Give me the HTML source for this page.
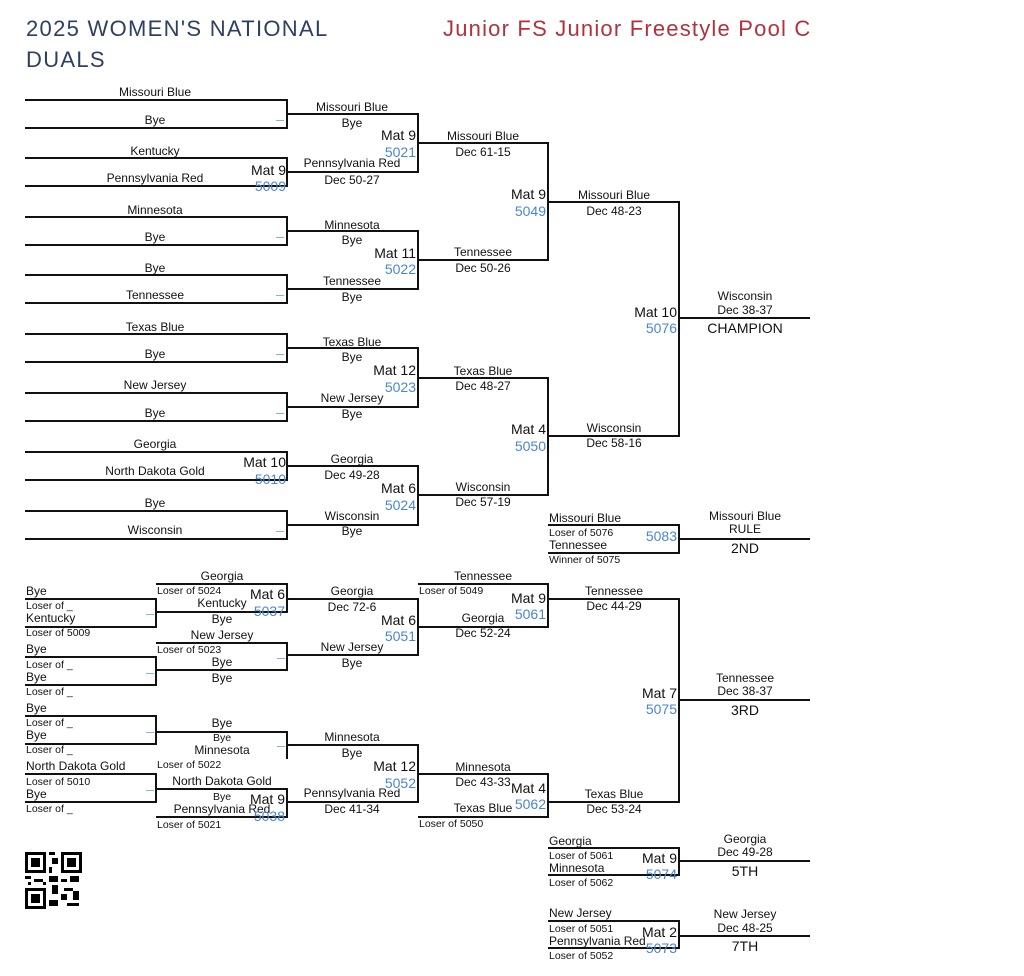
<!DOCTYPE html>
<html><head><meta charset="utf-8"><style>
body{margin:0;width:1024px;height:976px;background:#fff;position:relative;overflow:hidden;font-family:"Liberation Sans",sans-serif;color:#111}
.h{position:absolute;height:2px;background:#111}
.v{position:absolute;width:2px;background:#111}
.c,.r,.l{position:absolute;white-space:nowrap;font-size:12px;line-height:1}
.c{transform:translate(-50%,-50%)}
.r{transform:translate(-100%,-50%)}
.l{transform:translateY(-50%)}
.m{font-size:14px}
.b{color:#4a86d0;font-size:14px}
.s{font-size:10.5px}
.big{font-size:14px}
.d{position:absolute;height:1px;width:8px;background:#8ab0e0}
.hd{position:absolute;font-size:22px;color:#2e3f5f;line-height:31px;letter-spacing:1.3px}
</style></head><body>
<div class="hd" style="left:26px;top:13px">2025 WOMEN'S NATIONAL<br>DUALS</div>
<div class="hd" style="left:443px;top:13px;color:#b0323f;letter-spacing:1.2px">Junior FS Junior Freestyle Pool C</div>

<!-- R1 lines -->
<div class="h" style="left:25px;top:99px;width:263px"></div><div class="h" style="left:25px;top:127px;width:263px"></div><div class="v" style="left:286px;top:99px;height:30px"></div>
<div class="h" style="left:25px;top:157px;width:263px"></div><div class="h" style="left:25px;top:185px;width:263px"></div><div class="v" style="left:286px;top:157px;height:30px"></div>
<div class="h" style="left:25px;top:216px;width:263px"></div><div class="h" style="left:25px;top:244px;width:263px"></div><div class="v" style="left:286px;top:216px;height:30px"></div>
<div class="h" style="left:25px;top:274px;width:263px"></div><div class="h" style="left:25px;top:302px;width:263px"></div><div class="v" style="left:286px;top:274px;height:30px"></div>
<div class="h" style="left:25px;top:333px;width:263px"></div><div class="h" style="left:25px;top:361px;width:263px"></div><div class="v" style="left:286px;top:333px;height:30px"></div>
<div class="h" style="left:25px;top:392px;width:263px"></div><div class="h" style="left:25px;top:420px;width:263px"></div><div class="v" style="left:286px;top:392px;height:30px"></div>
<div class="h" style="left:25px;top:451px;width:263px"></div><div class="h" style="left:25px;top:479px;width:263px"></div><div class="v" style="left:286px;top:451px;height:30px"></div>
<div class="h" style="left:25px;top:510px;width:263px"></div><div class="h" style="left:25px;top:538px;width:263px"></div><div class="v" style="left:286px;top:510px;height:30px"></div>
<!-- R2 -->
<div class="h" style="left:287px;top:113px;width:132px"></div><div class="h" style="left:287px;top:171px;width:132px"></div><div class="v" style="left:417px;top:113px;height:60px"></div>
<div class="h" style="left:287px;top:230px;width:132px"></div><div class="h" style="left:287px;top:288px;width:132px"></div><div class="v" style="left:417px;top:230px;height:60px"></div>
<div class="h" style="left:287px;top:347px;width:132px"></div><div class="h" style="left:287px;top:406px;width:132px"></div><div class="v" style="left:417px;top:347px;height:61px"></div>
<div class="h" style="left:287px;top:465px;width:132px"></div><div class="h" style="left:287px;top:524px;width:132px"></div><div class="v" style="left:417px;top:465px;height:61px"></div>
<!-- R3 -->
<div class="h" style="left:418px;top:142px;width:131px"></div><div class="h" style="left:418px;top:259px;width:131px"></div><div class="v" style="left:547px;top:142px;height:119px"></div>
<div class="h" style="left:418px;top:377px;width:131px"></div><div class="h" style="left:418px;top:494px;width:131px"></div><div class="v" style="left:547px;top:377px;height:119px"></div>
<!-- R4 -->
<div class="h" style="left:548px;top:201px;width:132px"></div><div class="h" style="left:548px;top:435px;width:132px"></div><div class="v" style="left:678px;top:201px;height:236px"></div>
<div class="h" style="left:679px;top:317px;width:131px"></div>
<!-- 2nd -->
<div class="h" style="left:548px;top:524px;width:132px"></div><div class="h" style="left:548px;top:552px;width:132px"></div><div class="v" style="left:678px;top:524px;height:30px"></div>
<div class="h" style="left:679px;top:538px;width:131px"></div>

<!-- R1 text -->
<div class="c" style="left:155px;top:92px">Missouri Blue</div><div class="c" style="left:155px;top:120px">Bye</div><div class="d" style="left:276px;top:120px"></div>
<div class="c" style="left:155px;top:151px">Kentucky</div><div class="c" style="left:155px;top:178px">Pennsylvania Red</div>
<div class="r m" style="left:286px;top:170px">Mat 9</div><div class="r b" style="left:286px;top:186px">5009</div>
<div class="c" style="left:155px;top:210px">Minnesota</div><div class="c" style="left:155px;top:237px">Bye</div><div class="d" style="left:276px;top:237px"></div>
<div class="c" style="left:155px;top:268px">Bye</div><div class="c" style="left:155px;top:295px">Tennessee</div><div class="d" style="left:276px;top:295px"></div>
<div class="c" style="left:155px;top:327px">Texas Blue</div><div class="c" style="left:155px;top:354px">Bye</div><div class="d" style="left:276px;top:354px"></div>
<div class="c" style="left:155px;top:385px">New Jersey</div><div class="c" style="left:155px;top:413px">Bye</div><div class="d" style="left:276px;top:413px"></div>
<div class="c" style="left:155px;top:444px">Georgia</div><div class="c" style="left:155px;top:471px">North Dakota Gold</div>
<div class="r m" style="left:286px;top:462px">Mat 10</div><div class="r b" style="left:286px;top:479px">5010</div>
<div class="c" style="left:155px;top:503px">Bye</div><div class="c" style="left:155px;top:530px">Wisconsin</div><div class="d" style="left:276px;top:531px"></div>
<!-- R2 text -->
<div class="c" style="left:352px;top:107px">Missouri Blue</div><div class="c" style="left:352px;top:123px">Bye</div>
<div class="r m" style="left:416px;top:135px">Mat 9</div><div class="r b" style="left:416px;top:152px">5021</div>
<div class="c" style="left:352px;top:163px">Pennsylvania Red</div><div class="c" style="left:352px;top:180px">Dec 50-27</div>
<div class="c" style="left:352px;top:225px">Minnesota</div><div class="c" style="left:352px;top:240px">Bye</div>
<div class="r m" style="left:416px;top:253px">Mat 11</div><div class="r b" style="left:416px;top:269px">5022</div>
<div class="c" style="left:352px;top:281px">Tennessee</div><div class="c" style="left:352px;top:297px">Bye</div>
<div class="c" style="left:352px;top:342px">Texas Blue</div><div class="c" style="left:352px;top:357px">Bye</div>
<div class="r m" style="left:416px;top:370px">Mat 12</div><div class="r b" style="left:416px;top:387px">5023</div>
<div class="c" style="left:352px;top:398px">New Jersey</div><div class="c" style="left:352px;top:414px">Bye</div>
<div class="c" style="left:352px;top:459px">Georgia</div><div class="c" style="left:352px;top:475px">Dec 49-28</div>
<div class="r m" style="left:416px;top:488px">Mat 6</div><div class="r b" style="left:416px;top:505px">5024</div>
<div class="c" style="left:352px;top:516px">Wisconsin</div><div class="c" style="left:352px;top:531px">Bye</div>
<!-- R3 text -->
<div class="c" style="left:483px;top:136px">Missouri Blue</div><div class="c" style="left:483px;top:152px">Dec 61-15</div>
<div class="r m" style="left:546px;top:194px">Mat 9</div><div class="r b" style="left:546px;top:211px">5049</div>
<div class="c" style="left:483px;top:252px">Tennessee</div><div class="c" style="left:483px;top:268px">Dec 50-26</div>
<div class="c" style="left:483px;top:371px">Texas Blue</div><div class="c" style="left:483px;top:386px">Dec 48-27</div>
<div class="r m" style="left:546px;top:429px">Mat 4</div><div class="r b" style="left:546px;top:446px">5050</div>
<div class="c" style="left:483px;top:487px">Wisconsin</div><div class="c" style="left:483px;top:502px">Dec 57-19</div>
<!-- R4 text -->
<div class="c" style="left:614px;top:195px">Missouri Blue</div><div class="c" style="left:614px;top:211px">Dec 48-23</div>
<div class="r m" style="left:677px;top:312px">Mat 10</div><div class="r b" style="left:677px;top:328px">5076</div>
<div class="c" style="left:614px;top:428px">Wisconsin</div><div class="c" style="left:614px;top:443px">Dec 58-16</div>
<div class="c" style="left:745px;top:296px">Wisconsin</div><div class="c" style="left:745px;top:310px">Dec 38-37</div><div class="c big" style="left:745px;top:328px">CHAMPION</div>
<!-- 2nd -->
<div class="l" style="left:549px;top:518px">Missouri Blue</div><div class="l s" style="left:549px;top:533px">Loser of 5076</div>
<div class="l" style="left:549px;top:545px">Tennessee</div><div class="l s" style="left:549px;top:560px">Winner of 5075</div>
<div class="r b" style="left:677px;top:536px">5083</div>
<div class="c" style="left:745px;top:516px">Missouri Blue</div><div class="c" style="left:745px;top:529px">RULE</div><div class="c big" style="left:745px;top:548px">2ND</div>

<!-- Consolation R1 -->
<div class="h" style="left:25px;top:598px;width:132px"></div><div class="h" style="left:25px;top:626px;width:132px"></div><div class="v" style="left:155px;top:598px;height:30px"></div>
<div class="h" style="left:25px;top:656px;width:132px"></div><div class="h" style="left:25px;top:684px;width:132px"></div><div class="v" style="left:155px;top:656px;height:30px"></div>
<div class="h" style="left:25px;top:715px;width:132px"></div><div class="h" style="left:25px;top:743px;width:132px"></div><div class="v" style="left:155px;top:715px;height:30px"></div>
<div class="h" style="left:25px;top:773px;width:132px"></div><div class="h" style="left:25px;top:801px;width:132px"></div><div class="v" style="left:155px;top:773px;height:30px"></div>
<div class="l" style="left:26px;top:591px">Bye</div><div class="l s" style="left:26px;top:606px">Loser of _</div><div class="l" style="left:26px;top:618px">Kentucky</div><div class="l s" style="left:26px;top:633px">Loser of 5009</div>
<div class="l" style="left:26px;top:649px">Bye</div><div class="l s" style="left:26px;top:665px">Loser of _</div><div class="l" style="left:26px;top:677px">Bye</div><div class="l s" style="left:26px;top:692px">Loser of _</div>
<div class="l" style="left:26px;top:708px">Bye</div><div class="l s" style="left:26px;top:723px">Loser of _</div><div class="l" style="left:26px;top:735px">Bye</div><div class="l s" style="left:26px;top:750px">Loser of _</div>
<div class="l" style="left:26px;top:766px">North Dakota Gold</div><div class="l s" style="left:26px;top:782px">Loser of 5010</div><div class="l" style="left:26px;top:794px">Bye</div><div class="l s" style="left:26px;top:809px">Loser of _</div>
<div class="d" style="left:146px;top:614px"></div><div class="d" style="left:146px;top:673px"></div><div class="d" style="left:146px;top:732px"></div><div class="d" style="left:146px;top:790px"></div>
<!-- Cons R2 -->
<div class="h" style="left:156px;top:583px;width:132px"></div><div class="h" style="left:156px;top:611px;width:132px"></div><div class="v" style="left:286px;top:583px;height:30px"></div>
<div class="h" style="left:156px;top:642px;width:132px"></div><div class="h" style="left:156px;top:669px;width:132px"></div><div class="v" style="left:286px;top:642px;height:29px"></div>
<div class="h" style="left:156px;top:731px;width:132px"></div><div class="v" style="left:286px;top:731px;height:28px"></div>
<div class="h" style="left:156px;top:788px;width:132px"></div><div class="h" style="left:156px;top:816px;width:132px"></div><div class="v" style="left:286px;top:788px;height:30px"></div>
<div class="c" style="left:222px;top:576px">Georgia</div><div class="l s" style="left:157px;top:591px">Loser of 5024</div><div class="c" style="left:222px;top:603px">Kentucky</div><div class="c" style="left:222px;top:619px">Bye</div>
<div class="r m" style="left:285px;top:594px">Mat 6</div><div class="r b" style="left:285px;top:611px">5037</div>
<div class="c" style="left:222px;top:635px">New Jersey</div><div class="l s" style="left:157px;top:650px">Loser of 5023</div><div class="c" style="left:222px;top:662px">Bye</div><div class="c" style="left:222px;top:678px">Bye</div>
<div class="d" style="left:277px;top:658px"></div>
<div class="c" style="left:222px;top:723px">Bye</div><div class="c s" style="left:222px;top:738px">Bye</div><div class="c" style="left:222px;top:750px">Minnesota</div><div class="l s" style="left:157px;top:765px">Loser of 5022</div>
<div class="d" style="left:277px;top:746px"></div>
<div class="c" style="left:222px;top:781px">North Dakota Gold</div><div class="c s" style="left:222px;top:797px">Bye</div><div class="c" style="left:222px;top:809px">Pennsylvania Red</div><div class="l s" style="left:157px;top:825px">Loser of 5021</div>
<div class="r m" style="left:285px;top:799px">Mat 9</div><div class="r b" style="left:285px;top:816px">5038</div>
<!-- Cons R3 -->
<div class="h" style="left:287px;top:598px;width:132px"></div><div class="h" style="left:287px;top:654px;width:132px"></div><div class="v" style="left:417px;top:598px;height:58px"></div>
<div class="h" style="left:287px;top:744px;width:132px"></div><div class="h" style="left:287px;top:801px;width:132px"></div><div class="v" style="left:417px;top:744px;height:59px"></div>
<div class="c" style="left:352px;top:591px">Georgia</div><div class="c" style="left:352px;top:607px">Dec 72-6</div>
<div class="r m" style="left:416px;top:620px">Mat 6</div><div class="r b" style="left:416px;top:636px">5051</div>
<div class="c" style="left:352px;top:647px">New Jersey</div><div class="c" style="left:352px;top:663px">Bye</div>
<div class="c" style="left:352px;top:737px">Minnesota</div><div class="c" style="left:352px;top:753px">Bye</div>
<div class="r m" style="left:416px;top:766px">Mat 12</div><div class="r b" style="left:416px;top:783px">5052</div>
<div class="c" style="left:352px;top:793px">Pennsylvania Red</div><div class="c" style="left:352px;top:809px">Dec 41-34</div>
<!-- Cons R4 -->
<div class="h" style="left:418px;top:583px;width:131px"></div><div class="h" style="left:418px;top:626px;width:131px"></div><div class="v" style="left:547px;top:583px;height:45px"></div>
<div class="h" style="left:418px;top:773px;width:131px"></div><div class="h" style="left:418px;top:816px;width:131px"></div><div class="v" style="left:547px;top:773px;height:45px"></div>
<div class="c" style="left:483px;top:576px">Tennessee</div><div class="l s" style="left:419px;top:591px">Loser of 5049</div>
<div class="r m" style="left:546px;top:598px">Mat 9</div><div class="r b" style="left:546px;top:614px">5061</div>
<div class="c" style="left:483px;top:618px">Georgia</div><div class="c" style="left:483px;top:633px">Dec 52-24</div>
<div class="c" style="left:483px;top:767px">Minnesota</div><div class="c" style="left:483px;top:782px">Dec 43-33</div>
<div class="r m" style="left:546px;top:788px">Mat 4</div><div class="r b" style="left:546px;top:804px">5062</div>
<div class="c" style="left:483px;top:808px">Texas Blue</div><div class="l s" style="left:419px;top:824px">Loser of 5050</div>
<!-- Cons R5 -->
<div class="h" style="left:548px;top:598px;width:132px"></div><div class="h" style="left:548px;top:801px;width:132px"></div><div class="v" style="left:678px;top:598px;height:205px"></div>
<div class="h" style="left:679px;top:699px;width:131px"></div>
<div class="c" style="left:614px;top:591px">Tennessee</div><div class="c" style="left:614px;top:606px">Dec 44-29</div>
<div class="r m" style="left:677px;top:693px">Mat 7</div><div class="r b" style="left:677px;top:709px">5075</div>
<div class="c" style="left:614px;top:794px">Texas Blue</div><div class="c" style="left:614px;top:809px">Dec 53-24</div>
<div class="c" style="left:745px;top:678px">Tennessee</div><div class="c" style="left:745px;top:691px">Dec 38-37</div><div class="c big" style="left:745px;top:710px">3RD</div>
<!-- 5th -->
<div class="h" style="left:548px;top:847px;width:132px"></div><div class="h" style="left:548px;top:874px;width:132px"></div><div class="v" style="left:678px;top:847px;height:29px"></div>
<div class="h" style="left:679px;top:860px;width:131px"></div>
<div class="l" style="left:549px;top:841px">Georgia</div><div class="l s" style="left:549px;top:856px">Loser of 5061</div><div class="l" style="left:549px;top:868px">Minnesota</div><div class="l s" style="left:549px;top:883px">Loser of 5062</div>
<div class="r m" style="left:677px;top:858px">Mat 9</div><div class="r b" style="left:677px;top:874px">5074</div>
<div class="c" style="left:745px;top:839px">Georgia</div><div class="c" style="left:745px;top:852px">Dec 49-28</div><div class="c big" style="left:745px;top:871px">5TH</div>
<!-- 7th -->
<div class="h" style="left:548px;top:920px;width:132px"></div><div class="h" style="left:548px;top:947px;width:132px"></div><div class="v" style="left:678px;top:920px;height:29px"></div>
<div class="h" style="left:679px;top:935px;width:131px"></div>
<div class="l" style="left:549px;top:913px">New Jersey</div><div class="l s" style="left:549px;top:929px">Loser of 5051</div><div class="l" style="left:549px;top:941px">Pennsylvania Red</div><div class="l s" style="left:549px;top:956px">Loser of 5052</div>
<div class="r m" style="left:677px;top:932px">Mat 2</div><div class="r b" style="left:677px;top:948px">5073</div>
<div class="c" style="left:745px;top:914px">New Jersey</div><div class="c" style="left:745px;top:928px">Dec 48-25</div><div class="c big" style="left:745px;top:946px">7TH</div>

<!-- QR -->
<svg style="position:absolute;left:25px;top:852px" width="57" height="57" viewBox="0 0 19 19">
<rect width="19" height="19" fill="#fff"/>
<g fill="#000">
<rect x="0" y="0" width="7" height="7"/><rect x="1" y="1" width="5" height="5" fill="#fff"/><rect x="2" y="2" width="3" height="3"/>
<rect x="12" y="0" width="7" height="7"/><rect x="13" y="1" width="5" height="5" fill="#fff"/><rect x="14" y="2" width="3" height="3"/>
<rect x="0" y="12" width="7" height="7"/><rect x="1" y="13" width="5" height="5" fill="#fff"/><rect x="2" y="14" width="3" height="3"/>
<rect x="8" y="0" width="2" height="1"/><rect x="9" y="2" width="2" height="2"/><rect x="8" y="5" width="1" height="2"/>
<rect x="0" y="8" width="2" height="1"/><rect x="3" y="9" width="3" height="1"/><rect x="8" y="8" width="3" height="2"/><rect x="12" y="9" width="2" height="1"/><rect x="15" y="8" width="3" height="2"/>
<rect x="9" y="11" width="2" height="3"/><rect x="13" y="12" width="3" height="1"/><rect x="12" y="14" width="2" height="2"/><rect x="16" y="13" width="2" height="3"/>
<rect x="8" y="16" width="3" height="2"/><rect x="14" y="17" width="4" height="1"/><rect x="1" y="10" width="1" height="1"/><rect x="6" y="10" width="1" height="1"/>
</g></svg>
</body></html>
